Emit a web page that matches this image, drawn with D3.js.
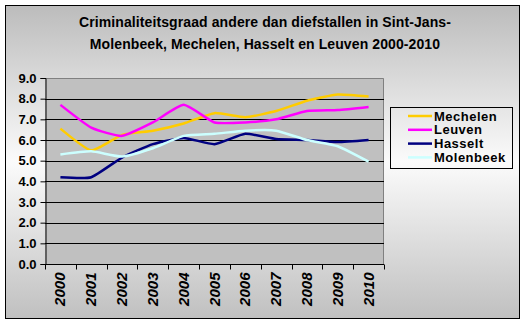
<!DOCTYPE html>
<html>
<head>
<meta charset="utf-8">
<script src="https://cdn.jsdelivr.net/npm/d3@7/dist/d3.min.js"></script>
<style>
  html, body { margin: 0; padding: 0; background: #ffffff; }
  svg { display: block; }
  text { font-family: Arial, "Liberation Sans", sans-serif; }
</style>
</head>
<body>
<svg id="chart" width="526" height="324"></svg>
<script>
// Crime rate (excluding theft), per city, 2000-2010
const years = ["2000", "2001", "2002", "2003", "2004", "2005", "2006", "2007", "2008", "2009", "2010"];
const mechelen  = [6.55, 5.5, 6.25, 6.45, 6.8, 7.3, 7.1, 7.4, 7.9, 8.2, 8.1];
const leuven    = [7.7, 6.6, 6.2, 6.85, 7.7, 6.85, 6.85, 7.0, 7.4, 7.45, 7.6];
const hasselt   = [4.2, 4.2, 5.15, 5.8, 6.1, 5.8, 6.3, 6.05, 6.0, 5.9, 6.0];
const molenbeek = [5.3, 5.45, 5.2, 5.6, 6.2, 6.3, 6.45, 6.45, 6.0, 5.7, 4.95];
const seriesNames = ["Mechelen", "Leuven", "Hasselt", "Molenbeek"];
const seriesColors = ["#ffcc00", "#ff00ff", "#000080", "#ccffff"];
const yTicks = [0, 1, 2, 3, 4, 5, 6, 7, 8, 9];
const titleLines = [
  "Criminaliteitsgraad andere dan diefstallen in Sint-Jans-",
  "Molenbeek, Mechelen, Hasselt en Leuven 2000-2010"
];

const series = [mechelen, leuven, hasselt, molenbeek].map((values, i) => ({
  name: seriesNames[i], color: seriesColors[i], values
}));

const svg = d3.select("#chart");

// Chart area background: grey -> near white -> grey vertical gradient
const defs = svg.append("defs");
const grad = defs.append("linearGradient")
  .attr("id", "bg").attr("x1", 0).attr("y1", 0).attr("x2", 0).attr("y2", 1);
grad.append("stop").attr("offset", "0%").attr("stop-color", "#bcbcbc");
grad.append("stop").attr("offset", "50%").attr("stop-color", "#fbfbfb");
grad.append("stop").attr("offset", "100%").attr("stop-color", "#c0c0c0");

svg.append("rect")
  .attr("x", 5.5).attr("y", 5.5).attr("width", 514).attr("height", 313)
  .attr("fill", "url(#bg)").attr("stroke", "#000").attr("stroke-width", 1);

// Title
svg.append("g").selectAll("text").data(titleLines).join("text")
  .attr("x", 265).attr("y", (d, i) => 27 + i * 22)
  .attr("text-anchor", "middle")
  .attr("font-size", 14).attr("font-weight", "bold").attr("letter-spacing", 0.1)
  .attr("fill", "#000")
  .text(d => d);

// Plot area
const plot = { left: 45, right: 384, top: 78, bottom: 264 };

const x = d3.scaleBand().domain(years).range([plot.left, plot.right]).padding(0);
const y = d3.scaleLinear().domain([0, 9]).range([plot.bottom, plot.top]);

svg.append("rect")
  .attr("x", plot.left).attr("y", plot.top)
  .attr("width", plot.right - plot.left).attr("height", plot.bottom - plot.top)
  .attr("fill", "#c0c0c0");

// Plot border (grey, top and right)
svg.append("path")
  .attr("d", `M${plot.left},${plot.top + 0.5}H${plot.right - 0.5}V${plot.bottom}`)
  .attr("fill", "none").attr("stroke", "#808080").attr("stroke-width", 1);

// Horizontal gridlines
svg.append("g").selectAll("line").data(yTicks.filter(t => t > 0 && t < 9)).join("line")
  .attr("x1", plot.left).attr("x2", plot.right)
  .attr("y1", d => Math.round(y(d)) + 0.5).attr("y2", d => Math.round(y(d)) + 0.5)
  .attr("stroke", "#000").attr("stroke-width", 1);

// Y axis
const yAxis = svg.append("g")
  .attr("transform", `translate(${plot.left + 0.5},0)`)
  .call(d3.axisLeft(y).tickValues(yTicks).tickFormat(d3.format(".1f")).tickSize(5).tickPadding(4));
yAxis.select(".domain").attr("stroke", "#000");
yAxis.selectAll(".tick line").attr("stroke", "#000");
yAxis.selectAll(".tick text")
  .attr("font-family", "Arial, 'Liberation Sans', sans-serif")
  .attr("font-size", 13).attr("font-weight", "bold").attr("fill", "#000");

// X axis with tick marks at category boundaries
const xAxisG = svg.append("g").attr("transform", `translate(0,${plot.bottom + 0.5})`);
xAxisG.append("line")
  .attr("x1", plot.left).attr("x2", plot.right)
  .attr("stroke", "#000");
const bounds = years.map(d => x(d)).concat([x(years[years.length - 1]) + x.bandwidth()]);
xAxisG.selectAll("line.tk").data(bounds).join("line").attr("class", "tk")
  .attr("x1", d => Math.round(d) + 0.5).attr("x2", d => Math.round(d) + 0.5)
  .attr("y1", 0).attr("y2", 5).attr("stroke", "#000");
xAxisG.selectAll("text").data(years).join("text")
  .attr("transform", d => `translate(${x(d) + x.bandwidth() / 2 + 5},8) rotate(-90)`)
  .attr("text-anchor", "end")
  .attr("font-size", 15).attr("font-weight", "bold").attr("font-style", "italic")
  .attr("fill", "#000")
  .text(d => d);

// Smoothed series lines
const line = d3.line()
  .x((d, i) => x(years[i]) + x.bandwidth() / 2)
  .y(d => y(d))
  .curve(d3.curveCardinal.tension(0.5));

svg.append("g").selectAll("path").data(series).join("path")
  .attr("d", d => line(d.values))
  .attr("fill", "none")
  .attr("stroke", d => d.color)
  .attr("stroke-width", 2.5)
  .attr("stroke-linejoin", "round");

// Legend
const legend = svg.append("g");
legend.append("rect")
  .attr("x", 390.5).attr("y", 107.5).attr("width", 122).attr("height", 61)
  .attr("fill", "none").attr("stroke", "#000");
const items = legend.selectAll("g").data(series).join("g")
  .attr("transform", (d, i) => `translate(0,${116 + i * 13.8})`);
items.append("line")
  .attr("x1", 408).attr("x2", 432).attr("y1", 0).attr("y2", 0)
  .attr("stroke", d => d.color).attr("stroke-width", 2.5);
items.append("text")
  .attr("x", 434).attr("y", 4.5)
  .attr("font-size", 13).attr("font-weight", "bold").attr("letter-spacing", 0.5)
  .attr("fill", "#000")
  .text(d => d.name);
</script>
</body>
</html>
